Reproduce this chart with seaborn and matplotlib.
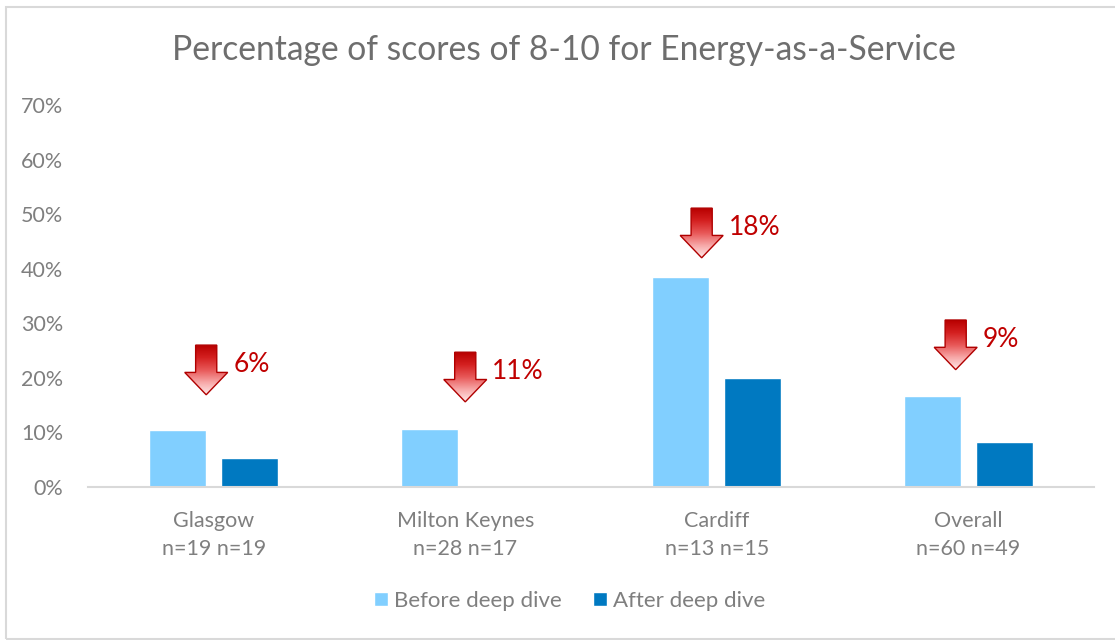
import numpy as np
import pandas as pd
import matplotlib
matplotlib.use("Agg")
import matplotlib.pyplot as plt
import seaborn as sns
from matplotlib.patches import Polygon, Rectangle
from matplotlib.colors import LinearSegmentedColormap

# ---- data -------------------------------------------------------------
categories = ["Glasgow", "Milton Keynes", "Cardiff", "Overall"]
n_before = [19, 28, 13, 60]
n_after = [19, 17, 15, 49]
before = [10.5, 10.7, 38.5, 16.7]
after = [5.3, 0.0, 20.0, 8.2]
series = ["Before deep dive", "After deep dive"]
change_labels = ["6%", "11%", "18%", "9%"]
y_ticks = [0, 10, 20, 30, 40, 50, 60, 70]

# arrow placement: horizontal offset from category centre, top of arrow (%)
arrow_dx = [-0.03, 0.0, -0.06, -0.05]
arrow_top = [26.0, 24.7, 51.1, 30.6]

# ---- styling ----------------------------------------------------------
sns.set_theme(style="white")
plt.rcParams["font.family"] = ["Lato", "DejaVu Sans"]

light_blue = "#81CFFF"
dark_blue = "#0079C1"
grey_text = "#7F7F7F"
title_grey = "#6E6E6E"
red = "#C00000"

df = pd.DataFrame({
    "category": categories * 2,
    "series": [series[0]] * 4 + [series[1]] * 4,
    "value": before + after,
})

fig = plt.figure(figsize=(11.15, 6.4), dpi=100)
ax = fig.add_axes([88 / 1115, 153 / 640, 1006 / 1115, 382 / 640])

sns.barplot(data=df, x="category", y="value", hue="series",
            palette=[light_blue, dark_blue], width=0.5725, gap=0.208,
            saturation=1, ax=ax, legend=True)

ax.set_xlim(-0.5, 3.5)
ax.set_ylim(0, 70)
ax.set_yticks(y_ticks)
ax.set_yticklabels([f"{t}%" for t in y_ticks])
ax.set_xticks(range(len(categories)))
ax.set_xticklabels([f"{c}\nn={a} n={b}" for c, a, b in zip(categories, n_before, n_after)],
                   linespacing=1.55)
ax.tick_params(axis="y", length=0, pad=18, labelsize=15.5, labelcolor=grey_text)
ax.tick_params(axis="x", length=0, pad=17, labelsize=15.5, labelcolor=grey_text)
ax.set_xlabel("")
ax.set_ylabel("")
for side in ["top", "right", "left"]:
    ax.spines[side].set_visible(False)
ax.spines["bottom"].set_color("#D9D9D9")
ax.spines["bottom"].set_linewidth(1.5)

fig.text(564 / 1115, 1 - 50 / 640,
         "Percentage of scores of 8-10 for Energy-as-a-Service",
         fontsize=24.2, color=title_grey, ha="center", va="center")

# ---- down arrows with gradient fill ----------------------------------
arrow_cmap = LinearSegmentedColormap.from_list(
    "arrow", ["#B80000", "#D42020", "#E85858", "#F7A8A8", "#FFEAEA"])
head_w = 0.171
shaft_w = 0.084
shaft_h = 5.0
head_h = 4.1
grad = np.linspace(0, 1, 200).reshape(-1, 1)

for i, lab in enumerate(change_labels):
    xc = i + arrow_dx[i]
    yt = arrow_top[i]
    yn = yt - shaft_h
    yb = yn - head_h
    verts = [(xc - shaft_w / 2, yt), (xc + shaft_w / 2, yt), (xc + shaft_w / 2, yn),
             (xc + head_w / 2, yn), (xc, yb), (xc - head_w / 2, yn),
             (xc - shaft_w / 2, yn)]
    poly = Polygon(verts, closed=True, facecolor="none", edgecolor="#B00000",
                   linewidth=1.0, zorder=6)
    ax.add_patch(poly)
    img = ax.imshow(grad, cmap=arrow_cmap, aspect="auto", origin="upper",
                    extent=(xc - head_w / 2, xc + head_w / 2, yb, yt), zorder=5)
    img.set_clip_path(poly)
    ax.text(xc + head_w / 2 + 0.022, yt - 3.6, lab, color=red, fontsize=19,
            ha="left", va="center")

ax.set_xlim(-0.5, 3.5)
ax.set_ylim(0, 70)

# ---- legend -----------------------------------------------------------
handles, labels = ax.get_legend_handles_labels()
ax.legend(handles, labels, loc="center", bbox_to_anchor=(570 / 1115, 39 / 640),
          bbox_transform=fig.transFigure, ncol=2, frameon=False,
          fontsize=16, labelcolor=grey_text, handlelength=0.6,
          handleheight=0.6, handletextpad=0.3, columnspacing=1.4)

# chart frame
fig.patches.append(Rectangle((6 / 1115, 1 / 640), 1.1, 632 / 640,
                             transform=fig.transFigure, fill=False,
                             edgecolor="#D9D9D9", linewidth=1.5))

fig.savefig("out.png", dpi=100, facecolor="white")
